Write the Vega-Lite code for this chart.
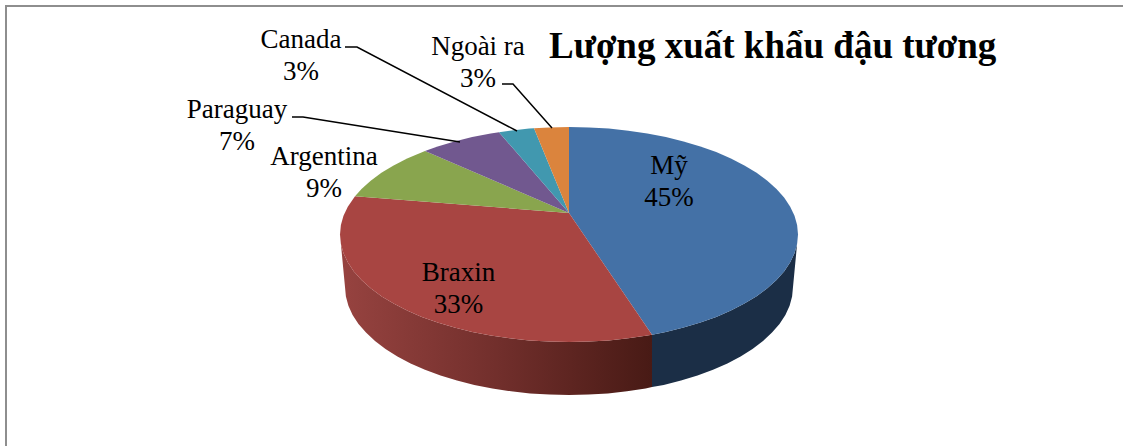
{
"$schema":"https://vega.github.io/schema/vega-lite/v6.json",
"width":1123,"height":446,"padding":0,"autosize":"none","background":"white",
"view":{"stroke":null},
"title":{"text":"Lượng xuất khẩu đậu tương","anchor":"start","frame":"group","dx":549,"dy":95,"font":"Liberation Serif","fontWeight":"bold","fontSize":37,"color":"#000000","baseline":"alphabetic","offset":0},
"projection":{"type":"identity","reflectY":true,"scale":1,"translate":[569,234.5]},
"datasets":{
"sides":[
{"type":"Feature","properties":{"name":"Mỹ"},"geometry":{"type":"Polygon","coordinates":[[[229,0],[228.1,-9.4],[225.5,-18.7],[221.2,-27.8],[215.3,-36.8],[207.5,-45.4],[198.3,-53.8],[187.6,-61.7],[175.4,-69.1],[161.9,-76],[147.2,-82.4],[131.4,-88.1],[114.5,-93.1],[96.8,-97.4],[83,-100.2],[83,-152.5],[94.7,-150.4],[112,-146],[128.5,-141],[144,-135.2],[158.4,-128.9],[171.6,-121.9],[183.5,-114.4],[194,-106.5],[203,-98.1],[210.5,-89.4],[216.4,-80.5],[220.6,-71.3],[223.1,-61.9],[224,-52.5],[229,0]]]}},
{"type":"Feature","properties":{"name":"Braxin"},"geometry":{"type":"Polygon","coordinates":[[[83,-100.2],[78.3,-101],[59.3,-103.8],[39.8,-105.9],[20,-107.1],[0,-107.5],[-20,-107.1],[-39.8,-105.9],[-59.3,-103.8],[-78.3,-101],[-96.8,-97.4],[-114.5,-93.1],[-131.4,-88.1],[-147.2,-82.4],[-161.9,-76],[-175.4,-69.1],[-187.6,-61.7],[-198.3,-53.8],[-207.5,-45.4],[-215.3,-36.8],[-221.2,-27.8],[-225.5,-18.7],[-228.1,-9.4],[-229,0],[-224,-52.5],[-223.1,-61.9],[-220.6,-71.3],[-216.4,-80.5],[-210.5,-89.4],[-203,-98.1],[-194,-106.5],[-183.5,-114.4],[-171.6,-121.9],[-158.4,-128.9],[-144,-135.2],[-128.5,-141],[-112,-146],[-94.7,-150.4],[-76.6,-154],[-58,-156.8],[-38.9,-158.9],[-19.5,-160.1],[0,-160.5],[19.5,-160.1],[38.9,-158.9],[58,-156.8],[76.6,-154],[83,-152.5],[83,-100.2]]]}}
],
"slices":[
{"type":"Feature","properties":{"name":"Mỹ","share":45},"geometry":{"type":"Polygon","coordinates":[[[0,21.5],[0,107.5],[20,107.1],[39.8,105.9],[59.3,103.8],[78.3,101],[96.8,97.4],[114.5,93.1],[131.4,88.1],[147.2,82.4],[161.9,76],[175.4,69.1],[187.6,61.7],[198.3,53.8],[207.5,45.4],[215.3,36.8],[221.2,27.8],[225.5,18.7],[228.1,9.4],[229,0],[228.1,-9.4],[225.5,-18.7],[221.2,-27.8],[215.3,-36.8],[207.5,-45.4],[198.3,-53.8],[187.6,-61.7],[175.4,-69.1],[161.9,-76],[147.2,-82.4],[131.4,-88.1],[114.5,-93.1],[96.8,-97.4],[83,-100.2],[0,21.5]]]}},
{"type":"Feature","properties":{"name":"Braxin","share":33},"geometry":{"type":"Polygon","coordinates":[[[0,21.5],[83,-100.2],[78.3,-101],[59.3,-103.8],[39.8,-105.9],[20,-107.1],[0,-107.5],[-20,-107.1],[-39.8,-105.9],[-59.3,-103.8],[-78.3,-101],[-96.8,-97.4],[-114.5,-93.1],[-131.4,-88.1],[-147.2,-82.4],[-161.9,-76],[-175.4,-69.1],[-187.6,-61.7],[-198.3,-53.8],[-207.5,-45.4],[-215.3,-36.8],[-221.2,-27.8],[-225.5,-18.7],[-228.1,-9.4],[-229,0],[-228.1,9.4],[-225.5,18.7],[-221.2,27.8],[-214,38.3],[0,21.5]]]}},
{"type":"Feature","properties":{"name":"Argentina","share":9},"geometry":{"type":"Polygon","coordinates":[[[0,21.5],[-214,38.3],[-207.5,45.4],[-198.3,53.8],[-187.6,61.7],[-175.4,69.1],[-161.9,76],[-144,83.6],[0,21.5]]]}},
{"type":"Feature","properties":{"name":"Paraguay","share":7},"geometry":{"type":"Polygon","coordinates":[[[0,21.5],[-144,83.6],[-131.4,88.1],[-114.5,93.1],[-96.8,97.4],[-78.3,101],[-70,102.3],[0,21.5]]]}},
{"type":"Feature","properties":{"name":"Canada","share":3},"geometry":{"type":"Polygon","coordinates":[[[0,21.5],[-70,102.3],[-59.3,103.8],[-39.8,105.9],[-35,106.2],[0,21.5]]]}},
{"type":"Feature","properties":{"name":"Ngoài ra","share":3},"geometry":{"type":"Polygon","coordinates":[[[0,21.5],[-35,106.2],[-20,107.1],[0,107.5],[0,21.5]]]}}
],
"leaders":[
{"type":"Feature","properties":{"name":"Canada"},"geometry":{"type":"LineString","coordinates":[[-224,187.5],[-212,187.5],[-52,103.5]]}},
{"type":"Feature","properties":{"name":"Ngoài ra"},"geometry":{"type":"LineString","coordinates":[[-67,150.5],[-56,150.5],[-17,106.5]]}},
{"type":"Feature","properties":{"name":"Paraguay"},"geometry":{"type":"LineString","coordinates":[[-277,117.5],[-266,117.5],[-109,92.5]]}}
],
"frame":[
{"type":"Feature","properties":{"name":"frame"},"geometry":{"type":"LineString","coordinates":[[-563,-211.5],[-563,228.5],[554,228.5]]}}
],
"labels":[
{"name":"Mỹ","label":"Mỹ\n45%","lon":100,"lat":68.5},
{"name":"Braxin","label":"Braxin\n33%","lon":-110.5,"lat":-38.5},
{"name":"Argentina","label":"Argentina\n9%","lon":-245,"lat":77.5},
{"name":"Paraguay","label":"Paraguay\n7%","lon":-332,"lat":124.5},
{"name":"Canada","label":"Canada\n3%","lon":-268,"lat":194.5},
{"name":"Ngoài ra","label":"Ngoài ra\n3%","lon":-91,"lat":187.5}
]
},
"layer":[
{"data":{"name":"frame"},"mark":{"type":"geoshape","filled":false,"stroke":"#8e8e8e","strokeWidth":2}},
{"data":{"name":"sides"},"transform":[{"filter":"datum.properties.name==='Mỹ'"}],"mark":{"type":"geoshape","stroke":null,"fill":"#1b2e46"}},
{"data":{"name":"sides"},"transform":[{"filter":"datum.properties.name==='Braxin'"}],"mark":{"type":"geoshape","stroke":null,"fill":{"gradient":"linear","x1":0,"y1":0,"x2":1,"y2":0,"stops":[{"offset":0,"color":"#974340"},{"offset":0.5,"color":"#722f2c"},{"offset":1,"color":"#481a15"}]}}},
{"data":{"name":"slices"},"mark":{"type":"geoshape","stroke":null},"encoding":{"color":{"field":"properties.name","type":"nominal","legend":null,"scale":{"domain":["Mỹ","Braxin","Argentina","Paraguay","Canada","Ngoài ra"],"range":["#4471a6","#a84542","#89a54e","#71588f","#4198af","#db843d"]}}}},
{"data":{"name":"leaders"},"mark":{"type":"geoshape","filled":false,"stroke":"#000000","strokeWidth":1.5}},
{"data":{"name":"labels"},"mark":{"type":"text","font":"Liberation Serif","fontSize":27,"lineBreak":"\n","lineHeight":32,"align":"center","baseline":"middle","color":"#000000"},"encoding":{"longitude":{"field":"lon","type":"quantitative"},"latitude":{"field":"lat","type":"quantitative"},"text":{"field":"label","type":"nominal"}}}
]
}
